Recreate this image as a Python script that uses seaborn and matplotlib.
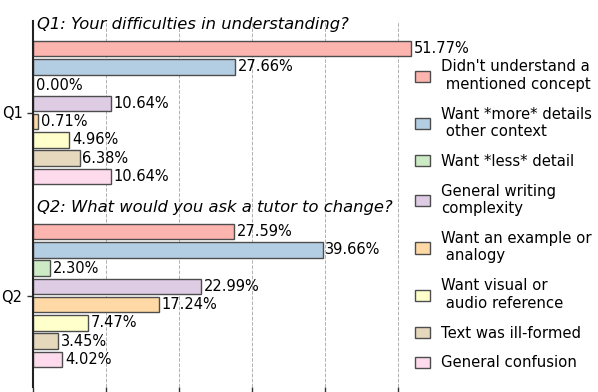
import pandas as pd
import seaborn as sns
import matplotlib.pyplot as plt

questions = ["Q1", "Q2"]
titles = ["Q1: Your difficulties in understanding?",
          "Q2: What would you ask a tutor to change?"]
categories = [
    "Didn't understand a\n mentioned concept",
    "Want *more* details\n other context",
    "Want *less* detail",
    "General writing\ncomplexity",
    "Want an example or\n analogy",
    "Want visual or\n audio reference",
    "Text was ill-formed",
    "General confusion",
]
q1_values = [51.77, 27.66, 0.00, 10.64, 0.71, 4.96, 6.38, 10.64]
q2_values = [27.59, 39.66, 2.30, 22.99, 17.24, 7.47, 3.45, 4.02]

rows = []
for q, vals in zip(questions, [q1_values, q2_values]):
    for c, v in zip(categories, vals):
        rows.append({"question": q, "category": c, "percent": v})
df = pd.DataFrame(rows)

sns.set_style("white")
plt.rcParams["font.family"] = ["DejaVu Sans"]
plt.rcParams["text.color"] = "black"
plt.rcParams["axes.labelcolor"] = "black"
plt.rcParams["xtick.color"] = "black"
plt.rcParams["ytick.color"] = "black"
fs = 10.5

fig = plt.figure(figsize=(5.98, 3.92), dpi=100)
ax = fig.add_axes([33 / 598, 5 / 392, (430 - 33) / 598, (387 - 21) / 392])

sns.barplot(data=df, y="question", x="percent", hue="category",
            hue_order=categories, palette="Pastel1", saturation=1, orient="h",
            gap=0.15, edgecolor="#4d4d4d", linewidth=1, ax=ax)

for cont in ax.containers:
    ax.bar_label(cont, fmt="%.2f%%", padding=2, fontsize=fs)

for i, t in enumerate(titles):
    ax.text(0.5, i - 0.48, t, style="italic", va="center", ha="left", fontsize=11.8)

ax.set_xlim(0, 54.36)
ax.set_ylim(1.5, -0.5)
ax.set_xticks(range(0, 51, 10))
ax.set_xticklabels([])
ax.set_xlabel("")
ax.set_ylabel("")
ax.tick_params(axis="x", length=4, width=1, color="#333333", direction="out", bottom=True)
ax.tick_params(axis="y", length=4, width=1, color="#333333", left=True, labelsize=fs)
ax.xaxis.grid(True, linestyle="--", color="#b0b0b0", linewidth=0.7)
ax.set_axisbelow(True)
for s in ["top", "right", "bottom"]:
    ax.spines[s].set_visible(False)
ax.spines["left"].set_color("#222222")
ax.spines["left"].set_linewidth(1.5)

handles, labels = ax.get_legend_handles_labels()
ax.get_legend().remove()
fig.legend(handles, labels, loc="upper left", bbox_to_anchor=(402 / 598, 1 - 46 / 392),
           frameon=False, fontsize=10.7, handlelength=1.0, handleheight=0.8,
           handletextpad=0.75, labelspacing=1.0)

fig.savefig("out.png", dpi=100)
